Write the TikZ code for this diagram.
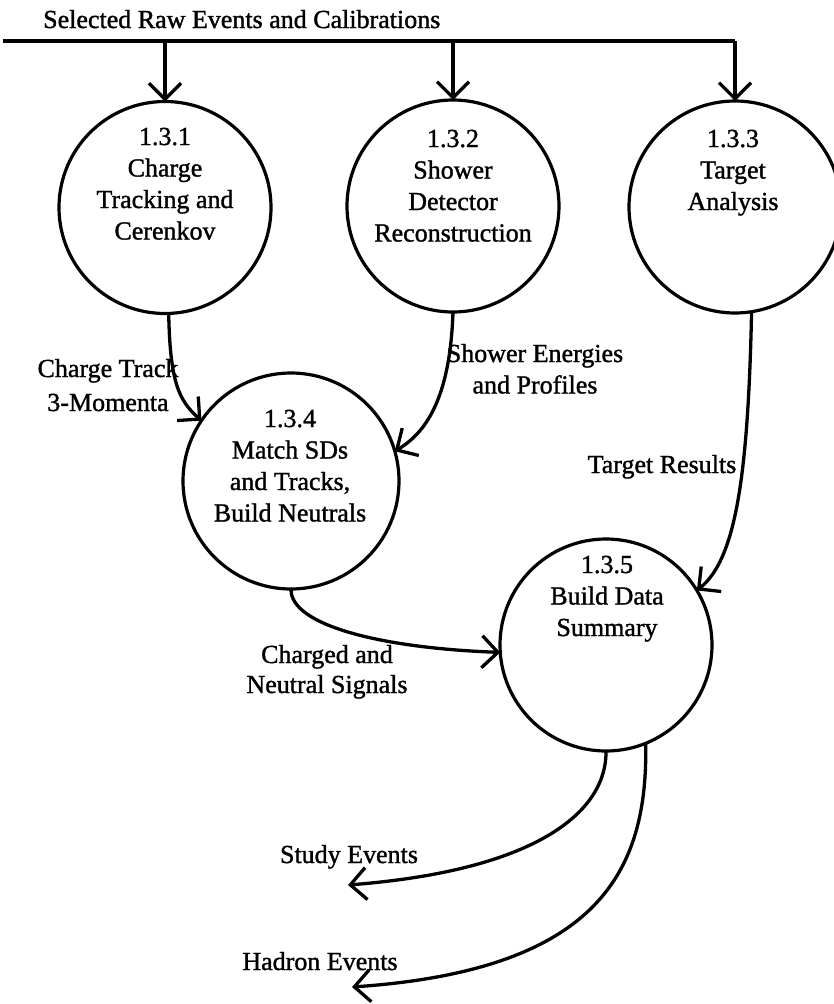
\documentclass[tikz,border=0pt]{standalone}
\usepackage{fontspec}
\setmainfont{Liberation Serif}
% heavier upright serif for all the lettering
\newfontfamily\inkfont{Liberation Serif}[FakeBold=1.3]
\usetikzlibrary{arrows.meta}
% centred multi-line text whose baseline is that of its first line
\newcommand\txtstack[1]{\begin{tabular}[t]{@{}c@{}}#1\end{tabular}}

\begin{document}
\begin{tikzpicture}[x=1pt,y=-1pt,
  font=\inkfont\fontsize{26}{31.5}\selectfont,
  process/.style={circle, draw, line width=3.2pt, minimum size=212pt,
                  inner sep=0pt, outer sep=0pt},
  bigprocess/.style={process, minimum size=216pt},
  wire/.style={line width=3.3pt},
  flow/.style={wire, -{Straight Barb[length=16pt,width=32pt]}},
  txt/.style={anchor=base, inner sep=0pt}]

\useasboundingbox (0,0) rectangle (833,1004);

% processes
\node[process]    (c1) at (165,207.5) {};
\node[process]    (c2) at (453,206)   {};
\node[process]    (c3) at (735,207)   {};
\node[bigprocess] (c4) at (291,481)   {};
\node[process]    (c5) at (606,645)   {};

\node[txt] (t1) at (165,145) {\txtstack{1.3.1\\Charge\\Tracking and\\Cerenkov}};
\node[txt] (t2) at (453,147) {\txtstack{1.3.2\\Shower\\Detector\\Reconstruction}};
\node[txt] (t3) at (733,147) {\txtstack{1.3.3\\Target\\Analysis}};
\node[txt] (t4) at (290,427) {\txtstack{1.3.4\\Match SDs\\and Tracks,\\Build Neutrals}};
\node[txt] (t5) at (607,573) {\txtstack{1.3.5\\Build Data\\Summary}};

% input bus
\coordinate (bl) at (3,41);
\coordinate (br) at (c3 |- bl);
\node[txt, anchor=base west] (title) at (43,28) {Selected Raw Events and Calibrations};
\draw[wire] (bl) -- (br);
\draw[flow] (c1 |- bl) -- (c1.north);
\draw[flow] (c2 |- bl) -- (c2.north);
\draw[flow] (br) -- (c3.north);

% internal flows
\draw[flow] (c1.-88) .. controls (170,380) and (178,400) .. (c4.146);
\draw[flow] (c2.-90) .. controls (450,400) and (425,433) .. (c4.16);
\draw[flow] (c3.-81) .. controls (748,480) and (735,560) .. (c5.31);
\draw[flow] (c4.-90) .. controls (290,625) and (380,648) .. (c5.184);

\node[txt] (l1) at (108,377) {\txtstack{Charge Track\\[2.5pt]3-Momenta}};
\node[txt] (l2) at (535,362) {\txtstack{Shower Energies\\and Profiles}};
\node[txt] (l3) at (662,473) {Target Results};
\node[txt] (l4) at (327,663) {\txtstack{Charged and\\[-1.5pt]Neutral Signals}};

% outputs
\coordinate (study) at (348,885);
\coordinate (hadron) at (352,987);
\draw[flow] (c5.-90) .. controls (607,810) and (540,870) .. (study);
\draw[flow] (c5.-68) .. controls (648,870) and (600,970) .. (hadron);

\node[txt] (l5) at (349,863) {Study Events};
\node[txt] (l6) at (320,970) {Hadron Events};
\end{tikzpicture}
\end{document}
